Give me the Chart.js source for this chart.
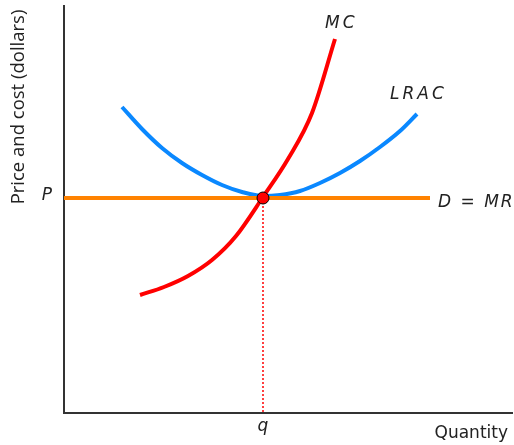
<!DOCTYPE html>
<html>
<head>
<meta charset="utf-8">
<script src="https://cdn.jsdelivr.net/npm/chart.js@4/dist/chart.umd.min.js"></script>
<style>
  html, body { margin: 0; padding: 0; background: #fff; }
  #wrap { width: 514px; height: 445px; }
</style>
</head>
<body>
<div id="wrap"><canvas id="c" width="514" height="445"></canvas></div>
<script>
// Quantity (x) and price/cost (y) in chart units
const mcCurve = [
  { x: 76, y: 118 }, { x: 100, y: 126 }, { x: 124, y: 137 }, { x: 148, y: 153 },
  { x: 172, y: 177 }, { x: 199, y: 216 }, { x: 224, y: 254 }, { x: 248, y: 300 },
  { x: 271, y: 374 }
];
const lracCurve = [
  { x: 58, y: 306 }, { x: 78, y: 284 }, { x: 98, y: 265 }, { x: 118, y: 250 },
  { x: 138, y: 238 }, { x: 158, y: 228 }, { x: 178, y: 221 }, { x: 199, y: 217 },
  { x: 216, y: 218 }, { x: 236, y: 222 }, { x: 256, y: 230 }, { x: 276, y: 240 },
  { x: 296, y: 252 }, { x: 316, y: 266 }, { x: 336, y: 282 }, { x: 353, y: 299 }
];
const priceP = 215;          // market price P
const quantityQ = 199;       // output q
const demandX = [0, 366];    // extent of the D = MR line
const axisMax = { x: 448, y: 407 };

const demandLine = demandX.map(x => ({ x, y: priceP }));
const dropLine = [{ x: quantityQ, y: priceP }, { x: quantityQ, y: 0 }];
const equilibrium = [{ x: quantityQ, y: priceP }];

const RED = '#ff0000', BLUE = '#0a88ff', ORANGE = '#ff8200';

const labels = {
  id: 'labels',
  afterDraw(chart) {
    const { ctx, chartArea, scales } = chart;
    const xs = scales.x, ys = scales.y;
    const pY = ys.getPixelForValue(priceP);
    ctx.save();
    ctx.fillStyle = '#222';
    ctx.textBaseline = 'alphabetic';

    // axis titles
    ctx.font = '18.5px "Open Sans"';
    ctx.save();
    ctx.translate(24, chartArea.top + 101);
    ctx.rotate(-Math.PI / 2);
    ctx.textAlign = 'center';
    ctx.fillText('Price and cost (dollars)', 0, 0);
    ctx.restore();

    ctx.font = '17px "DejaVu Sans"';
    ctx.textAlign = 'right';
    ctx.fillText('Quantity', 508, 438);

    // curve labels
    ctx.font = 'italic 17px "DejaVu Sans"';
    ctx.textAlign = 'left';
    ctx.letterSpacing = '3px';
    ctx.fillText('MC', 325, 28);
    ctx.fillText('LRAC', 390, 99);
    ctx.letterSpacing = '2px';
    ctx.fillText('D = MR', 438, pY + 9);
    ctx.letterSpacing = '0px';
    ctx.textAlign = 'center';
    ctx.fillText('P', 47, pY + 2);
    ctx.fillText('q', xs.getPixelForValue(quantityQ), 431);
    ctx.restore();
  }
};

new Chart(document.getElementById('c'), {
  type: 'scatter',
  data: {
    datasets: [
      { data: equilibrium, showLine: false, pointRadius: 6, pointBackgroundColor: RED,
        pointBorderColor: '#000', pointBorderWidth: 1, order: 0 },
      { data: mcCurve, showLine: true, borderColor: RED, borderWidth: 4,
        pointRadius: 0, cubicInterpolationMode: 'monotone', order: 1 },
      { data: demandLine, showLine: true, borderColor: ORANGE, borderWidth: 4,
        pointRadius: 0, order: 2 },
      { data: lracCurve, showLine: true, borderColor: BLUE, borderWidth: 4,
        pointRadius: 0, cubicInterpolationMode: 'monotone', order: 3 },
      { data: dropLine, showLine: true, borderColor: RED, borderWidth: 1.5,
        borderDash: [2, 2], pointRadius: 0, order: 4 }
    ]
  },
  options: {
    responsive: false,
    animation: false,
    layout: { autoPadding: false, padding: { left: 64, right: 2, top: 6, bottom: 32 } },
    plugins: { legend: { display: false }, tooltip: { enabled: false } },
    scales: {
      x: {
        type: 'linear', min: 0, max: axisMax.x,
        grid: { display: false, drawTicks: false },
        ticks: { display: false },
        border: { color: '#333', width: 2 }
      },
      y: {
        type: 'linear', min: 0, max: axisMax.y,
        grid: { display: false, drawTicks: false },
        ticks: { display: false },
        border: { color: '#333', width: 2 }
      }
    }
  },
  plugins: [labels]
});
</script>
</body>
</html>
